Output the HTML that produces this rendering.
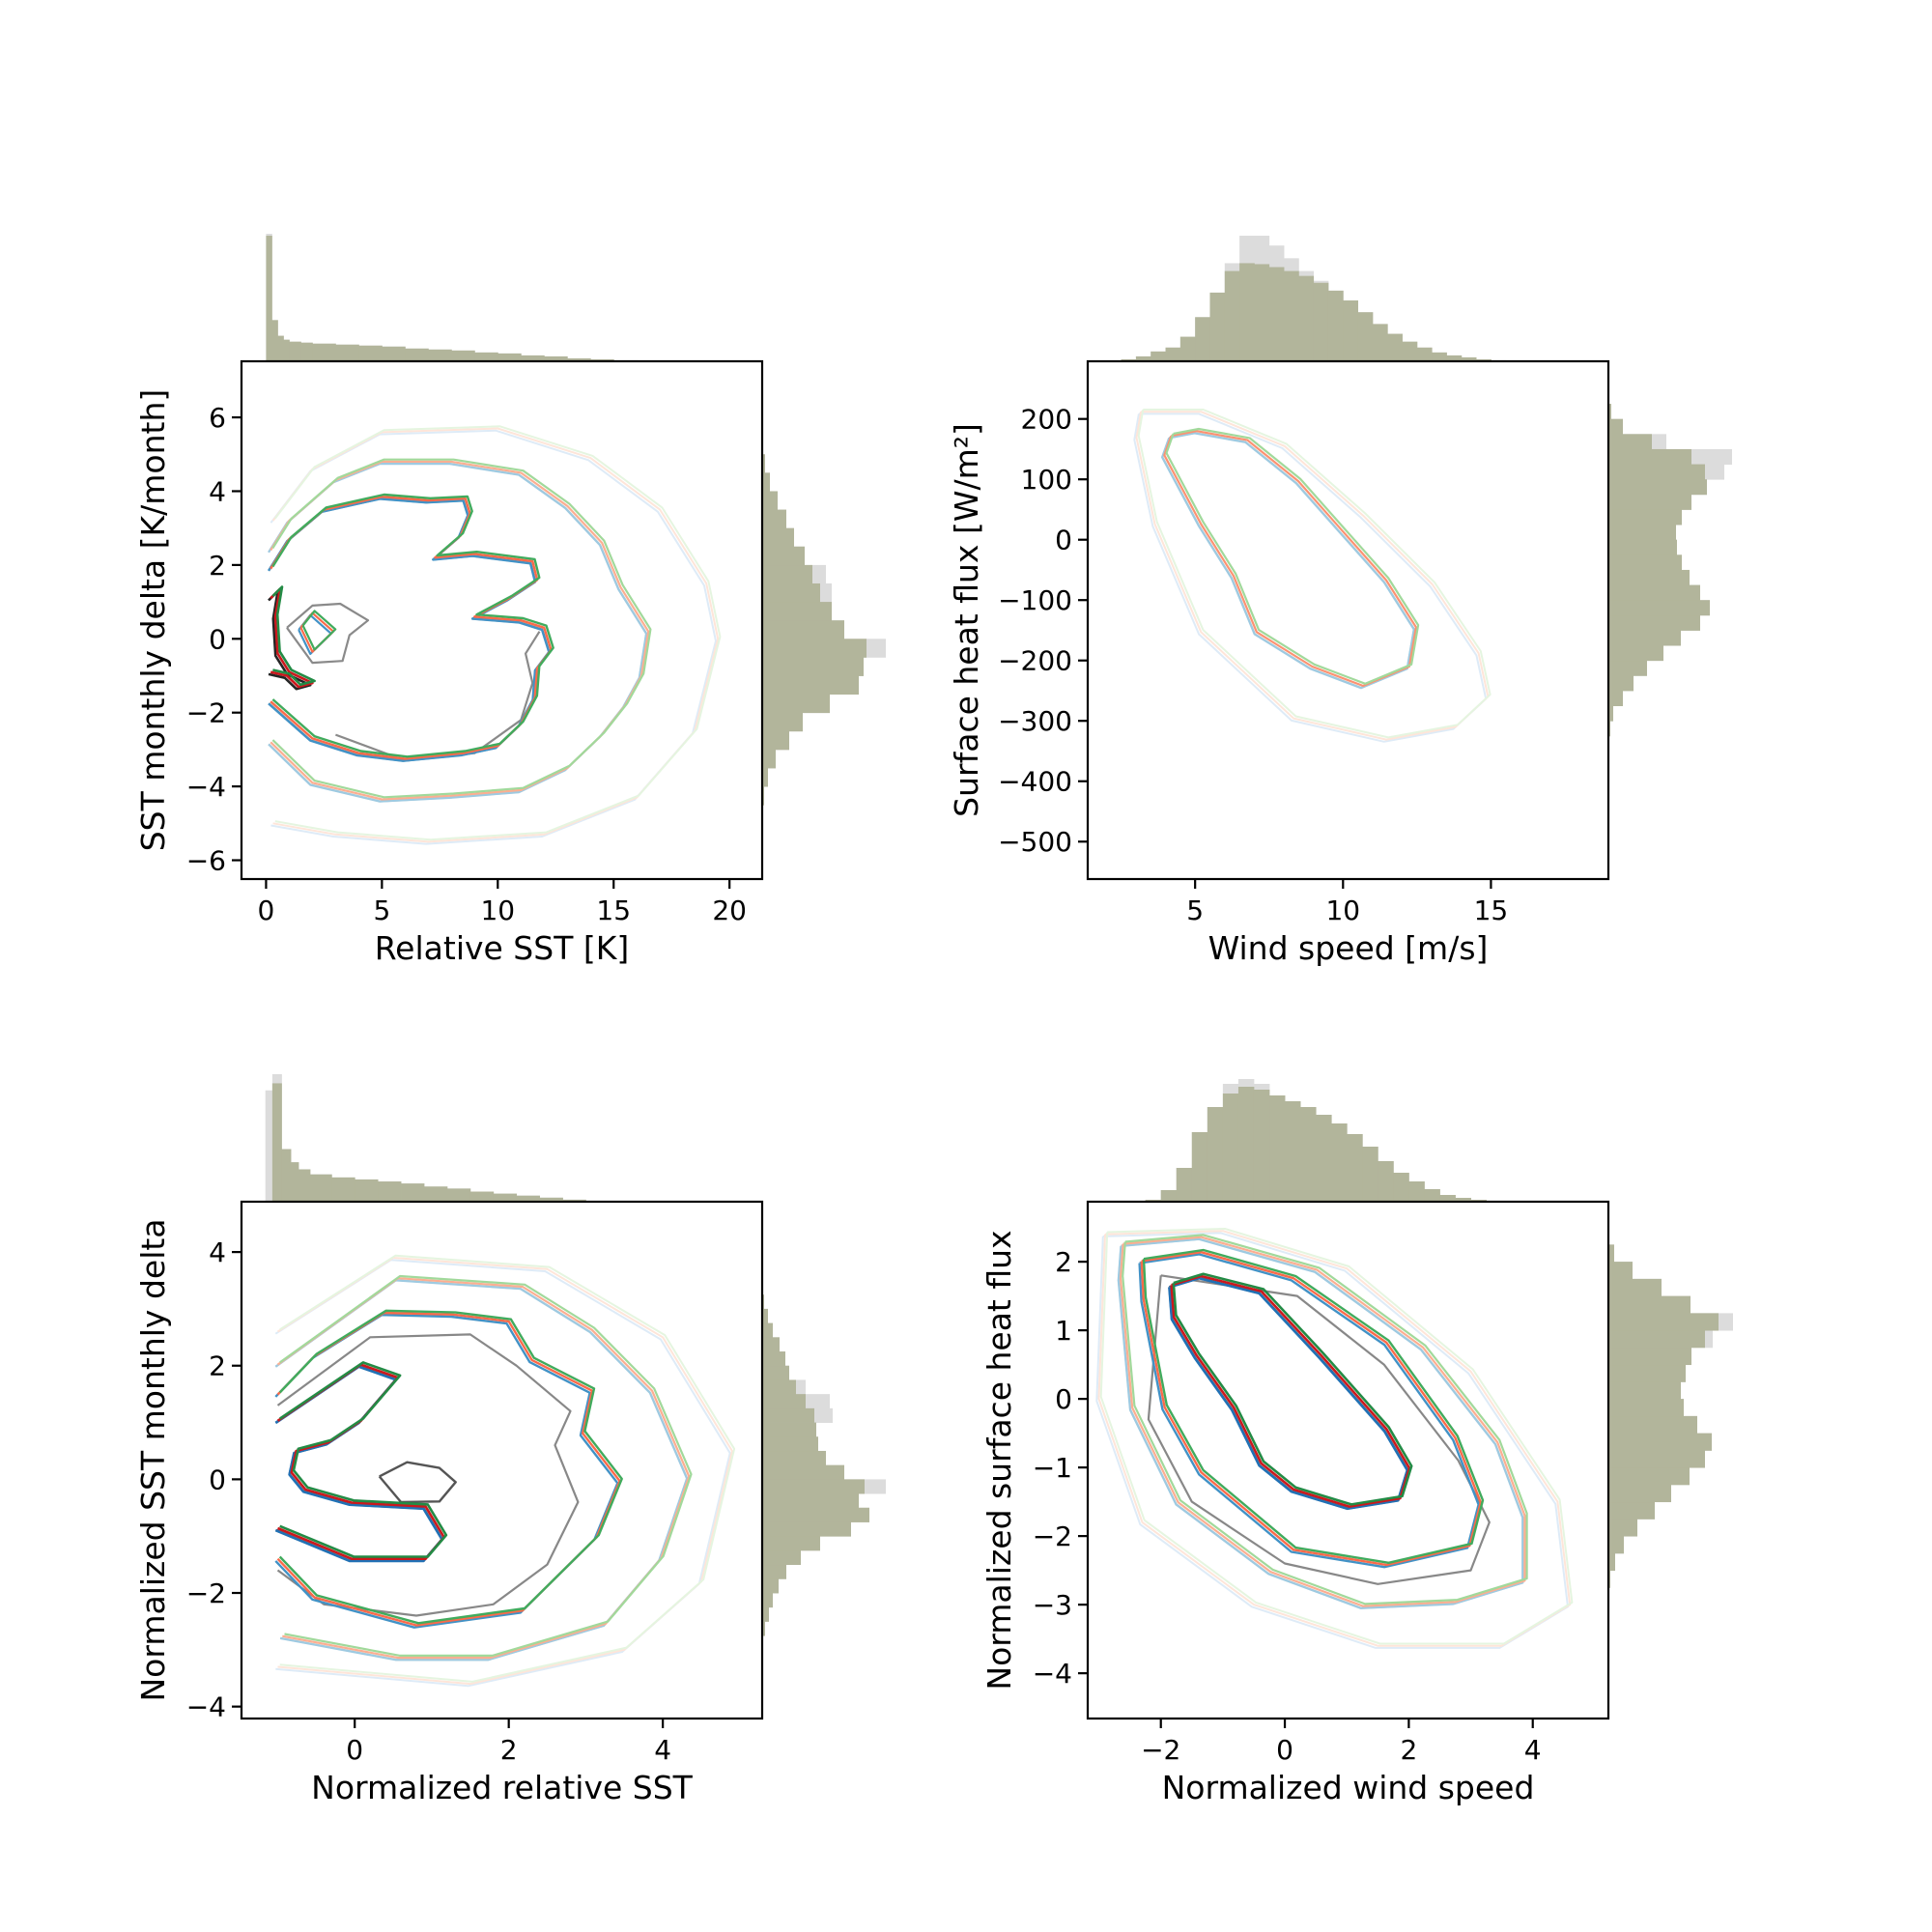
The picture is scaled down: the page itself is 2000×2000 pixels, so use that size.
<!DOCTYPE html>
<html><head><meta charset="utf-8">
<style>
html,body{margin:0;padding:0;background:#fff;}
svg{display:block;font-family:"DejaVu Sans","Liberation Sans",sans-serif;}
</style></head>
<body>
<svg id="fig" width="2000" height="2000" viewBox="0 0 2000 2000" xmlns="http://www.w3.org/2000/svg">
<rect x="0" y="0" width="2000" height="2000" fill="#fff"/>
</svg>
<script>
// ---------- DATA ----------
// Top-left: Relative SST vs SST monthly delta
const tlXTicks = [0,5,10,15,20];
const tlYTicks = [6,4,2,0,-2,-4,-6];
const tlTopEdges = [0,0.25,0.5,0.75,1,1.5,2,3,4,5,6,7,8,9,10,11,12,13,14,15,16];
const tlTopCounts = [128,42,26,22,20,19,18,17,16,15,13,12,11,9,8,6,5,3,2,1];
const tlTopGray = [130,42,26,22,20,19,18,17,16,15,13,12,11,9,8,6,5,3,2,1];
const tlRightEdges = [-4.5,-4,-3.5,-3,-2.5,-2,-1.5,-1,-0.5,0,0.5,1,1.5,2,2.5,3,3.5,4,4.5,5];
const tlRightCounts = [2,6,14,28,42,70,100,105,108,85,72,60,52,44,33,25,16,8,3];
const tlRightGray = [2,6,14,28,42,70,100,105,128,85,72,72,66,44,33,25,16,8,3];
const tlFaint = [[0.3,3.2],[2,4.6],[5,5.6],[10,5.7],[14,4.9],[17,3.5],[19,1.5],[19.5,0],[18.5,-2.5],[16,-4.3],[12,-5.3],[7,-5.5],[3,-5.3],[0.3,-5]];
const tlMid = [[0.2,2.4],[1,3.2],[3,4.3],[5,4.8],[8,4.8],[11,4.5],[13,3.6],[14.5,2.6],[15.3,1.4],[16.5,0.2],[16.2,-1],[15.5,-1.8],[14.5,-2.6],[13,-3.5],[11,-4.1],[8,-4.25],[5,-4.35],[2,-3.9],[0.2,-2.8]];
const tlInner = [[0.2,1.9],[1,2.7],[2.5,3.5],[5,3.85],[7,3.75],[8.6,3.8],[8.8,3.4],[8.4,2.8],[7.3,2.2],[9,2.3],[11.5,2.1],[11.7,1.6],[10.5,1.1],[9,0.6],[11,0.5],[12,0.3],[12.3,-0.3],[11.7,-0.8],[11.6,-1.6],[11,-2.3],[10,-2.9],[8.5,-3.1],[6,-3.25],[4,-3.1],[2,-2.7],[0.2,-1.7]];
const tlCrescent = [[0.2,1.1],[0.6,1.35],[0.4,0.6],[0.5,-0.4],[1.0,-0.9],[2.0,-1.2],[1.4,-1.3],[0.9,-1.0],[0.2,-0.9]];
const tlLoop = [[1.5,0.3],[2,0.7],[2.9,0.2],[2,-0.35],[1.5,0.3]];
const tlGrayLoop = [[0.9,0.3],[2,0.9],[3.2,0.95],[4.4,0.5],[3.6,0.1],[3.3,-0.6],[2,-0.65],[0.9,0.3]];
const tlGrayOuter = [[3,-2.6],[6,-3.3],[9,-3.1],[11,-2.2],[11.5,-1.2],[11.2,-0.4],[11.8,0.2]];

// Top-right: Wind speed vs surface heat flux
const trXTicks = [5,10,15];
const trYTicks = [200,100,0,-100,-200,-300,-400,-500];
const trTopEdges = [2,2.5,3,3.5,4,4.5,5,5.5,6,6.5,7,7.5,8,8.5,9,9.5,10,10.5,11,11.5,12,12.5,13,13.5,14,14.5,15,15.5];
const trTopCounts = [0.5,2,5,10,14,25,45,70,92,100,99,96,92,87,80,72,62,50,38,28,20,14,9,6,4,2,1];
const trTopGray = [0.5,2,5,10,14,25,45,70,100,128,128,118,105,92,82,72,62,50,38,28,20,14,9,6,4,2,1];
const trRightEdges = [-350,-325,-300,-275,-250,-225,-200,-175,-150,-125,-100,-75,-50,-25,0,25,50,75,100,125,150,175,200,225];
const trRightCounts = [0.5,2,5,15,26,40,57,75,95,105,95,84,76,71,70,76,86,102,100,86,45,15,3];
const trRightGray = [0.5,2,5,15,26,40,57,75,95,105,95,84,76,71,70,76,86,102,120,128,60,15,3];
const trInner = [[4.19,172],[5.05,180],[6.77,165],[8.49,97],[9.9,19],[11.46,-67],[12.47,-145],[12.24,-210],[10.68,-242],[8.96,-210],[7.08,-153],[6.3,-60],[5.2,26],[3.96,140],[4.19,172]];
const trOuter = [[3.17,212],[5.2,212],[8.02,155],[10.68,40],[13.02,-74],[14.58,-188],[14.9,-260],[13.8,-310],[11.46,-331],[8.33,-296],[5.2,-153],[3.64,26],[3.02,169],[3.17,212]];

// Bottom-left: normalized relative SST vs normalized SST delta
const blXTicks = [0,2,4];
const blYTicks = [4,2,0,-2,-4];
const blTopEdges = [-1.16,-1.07,-0.95,-0.83,-0.73,-0.58,-0.3,0,0.3,0.6,0.9,1.2,1.5,1.8,2.1,2.4,2.7,3.0];
const blTopCounts = [0,117,52,39,32,27,24,22,20,18,15,13,10,8,6,4,2];
const blTopGray = [110,126,52,39,32,27,24,22,20,18,15,13,10,8,6,4,2];
const blRightEdges = [-3,-2.75,-2.5,-2.25,-2,-1.75,-1.5,-1.25,-1,-0.75,-0.5,-0.25,0,0.25,0.5,0.75,1,1.25,1.5,1.75,2,2.25,2.5,2.75,3,3.25];
const blRightCounts = [1,3,7,11,17,25,40,60,92,111,100,106,85,66,58,56,54,45,35,28,24,18,11,6,2];
const blRightGray = [1,3,7,11,17,25,40,60,92,111,100,128,85,66,58,56,73,70,45,28,24,18,11,6,2];
const blFaint = [[-1,2.6],[0.5,3.9],[2.5,3.7],[4,2.5],[4.9,0.5],[4.5,-1.8],[3.5,-3],[1.5,-3.6],[-1,-3.3]];
const blMid = [[-1.0,2.02],[0.56,3.54],[2.18,3.39],[3.08,2.63],[3.86,1.56],[4.34,0.05],[3.98,-1.39],[3.26,-2.54],[1.76,-3.14],[0.56,-3.14],[-0.94,-2.76]];
const blMain = [[-1.0,1.49],[-0.52,2.17],[0.38,2.93],[1.28,2.9],[2.0,2.78],[2.3,2.1],[3.08,1.56],[2.96,0.81],[3.44,-0.03],[3.14,-1.02],[2.18,-2.31],[0.8,-2.57],[-0.52,-2.08],[-1.0,-1.4]];
const blArm = [[-1.0,1.03],[0.08,2.02],[0.56,1.79],[0.08,1.03],[-0.34,0.65],[-0.76,0.5],[-0.82,0.12],[-0.64,-0.18],[-0.04,-0.41],[0.92,-0.48],[1.16,-1.02],[0.92,-1.4],[-0.04,-1.4],[-1.0,-0.86]];
const blGrayLoop = [[0.32,0.05],[0.68,0.3],[1.1,0.2],[1.31,-0.05],[1.1,-0.39],[0.6,-0.4],[0.32,0.05]];
const blGrayMain = [[-1.0,1.3],[0.2,2.5],[1.5,2.55],[2.1,2.0],[2.8,1.2],[2.6,0.6],[2.9,-0.4],[2.5,-1.5],[1.8,-2.2],[0.8,-2.4],[-0.4,-2.2],[-1.0,-1.6]];

// Bottom-right: normalized wind speed vs normalized heat flux
const brXTicks = [-2,0,2,4];
const brYTicks = [2,1,0,-1,-2,-3,-4];
const brTopEdges = [-2.25,-2,-1.75,-1.5,-1.25,-1,-0.75,-0.5,-0.25,0,0.25,0.5,0.75,1,1.25,1.5,1.75,2,2.25,2.5,2.75,3,3.25,3.5];
const brTopCounts = [2,12,35,72,98,112,119,116,110,104,98,90,81,70,57,42,30,21,13,7,4,2,1];
const brTopGray = [2,12,35,72,98,122,127,122,110,104,98,90,81,70,57,42,30,21,13,7,4,2,1];
const brRightEdges = [-2.75,-2.5,-2.25,-2,-1.75,-1.5,-1.25,-1,-0.75,-0.5,-0.25,0,0.25,0.5,0.75,1,1.25,1.5,1.75,2,2.25];
const brRightCounts = [2,7,16,30,48,65,84,100,107,92,78,75,80,86,100,114,85,55,25,6];
const brRightGray = [2,7,16,30,48,65,84,100,107,92,78,75,80,86,108,129,85,55,25,6];
const brInner = [[-1.83,1.66],[-1.35,1.79],[-0.38,1.57],[0.59,0.63],[1.64,-0.44],[2.01,-1.01],[1.86,-1.45],[1.04,-1.57],[0.14,-1.32],[-0.38,-0.94],[-0.82,-0.13],[-1.42,0.63],[-1.79,1.19],[-1.83,1.66]];
const brGrayInner = [[-1.6,1.62],[-0.6,1.5],[0.3,0.55],[1.3,-0.5],[1.85,-1.2],[1.4,-1.65],[0.4,-1.75],[-0.5,-1.2],[-1.0,-0.3],[-1.6,0.6],[-1.8,1.3],[-1.6,1.62]];
const brMid = [[-2.31,2.01],[-1.35,2.14],[0.14,1.76],[1.64,0.82],[2.75,-0.57],[3.16,-1.51],[2.98,-2.14],[1.64,-2.42],[0.14,-2.2],[-1.35,-1.07],[-1.94,-0.12],[-2.28,1.45],[-2.31,2.01]];
const brGrayMid = [[-2.0,1.8],[0.2,1.5],[1.6,0.5],[2.8,-0.9],[3.3,-1.8],[3.0,-2.5],[1.5,-2.7],[0,-2.4],[-1.5,-1.5],[-2.2,-0.3],[-2.0,1.8]];
const brOuter = [[-2.61,2.26],[-1.35,2.36],[0.52,1.88],[2.23,0.75],[3.43,-0.63],[3.87,-1.7],[3.87,-2.65],[2.75,-2.96],[1.26,-3.02],[-0.23,-2.52],[-1.72,-1.51],[-2.46,-0.13],[-2.65,1.76],[-2.61,2.26]];
const brFaint = [[-2.9,2.4],[-1,2.45],[1,1.9],[3,0.4],[4.4,-1.5],[4.6,-3],[3.5,-3.6],[1.5,-3.6],[-0.5,-3.0],[-2.3,-1.8],[-3.0,0],[-2.9,2.4]];

// ---------- RENDER ----------
const NS = 'http://www.w3.org/2000/svg';
const fig = document.getElementById('fig');
function mk(tag, attrs, parent){
  const e = document.createElementNS(NS, tag);
  for (const k in attrs) e.setAttribute(k, attrs[k]);
  (parent||fig).appendChild(e);
  return e;
}
const OLIVE = '#b2b59b';
const fmt = v => (v<0 ? '\u2212'+Math.abs(v) : ''+v);

function drawPanel(p){
  const g = mk('g', {});
  
  
  const sx = v => p.x0 + (v - p.xd[0]) / (p.xd[1]-p.xd[0]) * (p.x1 - p.x0);
  const sy = v => p.y1 - (v - p.yd[0]) / (p.yd[1]-p.yd[0]) * (p.y1 - p.y0);

  const topG = mk('g', {}, g);
  
  
  const tmax = Math.max(...p.topGray, ...p.topCounts);
  [[p.topGray,'#dcdcdc'],[p.topCounts,OLIVE]].forEach(([arr,col])=>{
    arr.forEach((c,i)=>{
      const xa = sx(p.topEdges[i]), xb = sx(p.topEdges[i+1]);
      const h = c / tmax * p.topH;
      const r = mk('rect', {x:xa, y:p.y0-h, width:Math.max(0.5,xb-xa+0.4), height:h, fill:col}, topG);
      
      
    });
  });
  const rG = mk('g', {}, g);
  
  
  const rmax = Math.max(...p.rightGray, ...p.rightCounts);
  [[p.rightGray,'#dcdcdc'],[p.rightCounts,OLIVE]].forEach(([arr,col])=>{
    arr.forEach((c,i)=>{
      const ya = sy(p.rightEdges[i+1]), yb = sy(p.rightEdges[i]);
      const w = c / rmax * p.rightW;
      const r = mk('rect', {x:p.x1, y:ya, width:w, height:Math.max(0.5,yb-ya+0.4), fill:col}, rG);
      
      
    });
  });

  const bg = mk('rect', {x:p.x0, y:p.y0, width:p.x1-p.x0, height:p.y1-p.y0, fill:'#fff'}, g);
  
  
  const clip = mk('clipPath', {id:'clip-'+p.name}, g);
  mk('rect', {x:p.x0, y:p.y0, width:p.x1-p.x0, height:p.y1-p.y0}, clip);

  const cG = mk('g', {'clip-path':'url(#clip-'+p.name+')'}, g);
  
  
  p.contours.forEach(ct=>{
    const d = ct.pts.map((q,i)=>(i?'L':'M')+sx(q[0]).toFixed(1)+' '+sy(q[1]).toFixed(1)).join(' ');
    const path = mk('path', {d:d, fill:'none', stroke:ct.color, 'stroke-width':ct.w||2.2, 'stroke-linejoin':'round', transform:'translate('+(ct.dx||0)+','+(ct.dy||0)+')'}, cG);
    
    
  });

  const fr = mk('rect', {x:p.x0, y:p.y0, width:p.x1-p.x0, height:p.y1-p.y0, fill:'none', stroke:'#000', 'stroke-width':2.2}, g);
  
  

  const xt = mk('g', {}, g);
  
  
  p.xTicks.forEach(v=>{
    const X = sx(v);
    mk('line', {x1:X, x2:X, y1:p.y1, y2:p.y1+10, stroke:'#000', 'stroke-width':2.2}, xt);
    const t = mk('text', {x:X, y:p.y1+42, 'font-size':28, 'text-anchor':'middle', fill:'#000'}, xt);
    
    
    t.textContent = fmt(v);
  });
  const yt = mk('g', {}, g);
  
  
  p.yTicks.forEach(v=>{
    const Y = sy(v);
    mk('line', {x1:p.x0-10, x2:p.x0, y1:Y, y2:Y, stroke:'#000', 'stroke-width':2.2}, yt);
    const t = mk('text', {x:p.x0-16, y:Y+10, 'font-size':28, 'text-anchor':'end', fill:'#000'}, yt);
    
    
    t.textContent = fmt(v);
  });
  const xl = mk('text', {x:(p.x0+p.x1)/2, y:p.y1+83, 'font-size':33, 'text-anchor':'middle', fill:'#000'}, g);
  
  
  xl.textContent = p.xLabel;
  const cy = (p.y0+p.y1)/2;
  const yl = mk('text', {x:p.yLabelX, y:cy, 'font-size':33, 'text-anchor':'middle', fill:'#000', transform:'rotate(-90 '+p.yLabelX+' '+cy+')'}, g);
  
  
  yl.textContent = p.yLabel;
}

// colour order: blue, red, green (green drawn last like reference)
const R = {faint:['#deebf7','#fee5d9','#e5f5e0'], light:['#9ecae1','#fcae91','#a1d99b'], strong:['#4292c6','#fb6a4a','#41ab5d'], dark:['#2171b5','#cb181d','#238b45']};
function set(pts, cols, w, gray){
  const out = [];
  if (gray) out.push({pts:pts, color:gray, w:w, dx:-2, dy:2});
  cols.forEach((c,i)=>out.push({pts:pts, color:c, w:w, dx:(i-1)*2.2, dy:(1-i)*2.2}));
  return out;
}

drawPanel({name:'panel-relative-sst', x0:250, x1:789, y0:374, y1:910, xd:[-1.06,21.41], yd:[-6.51,7.52],
  xTicks:tlXTicks, yTicks:tlYTicks, topEdges:tlTopEdges, topCounts:tlTopCounts, topGray:tlTopGray, topH:132,
  rightEdges:tlRightEdges, rightCounts:tlRightCounts, rightGray:tlRightGray, rightW:128,
  xLabel:'Relative SST [K]', yLabel:'SST monthly delta [K/month]', yLabelX:170,
  contours:[].concat(set(tlFaint,R.faint,2), set(tlMid,R.light,2.2,'#cccccc'), [{pts:tlGrayLoop,color:'#8a8a8a',w:2.2},{pts:tlGrayOuter,color:'#8a8a8a',w:2.2}],
    set(tlInner,R.strong,2.4,'#8a8a8a'), set(tlCrescent,['#252525','#cb181d','#238b45'],2.6), set(tlLoop,['#4292c6','#fb6a4a','#41ab5d'],2.2))});

drawPanel({name:'panel-wind-speed', x0:1126, x1:1665, y0:374, y1:910, xd:[1.37,18.97], yd:[-562,295.5],
  xTicks:trXTicks, yTicks:trYTicks, topEdges:trTopEdges, topCounts:trTopCounts, topGray:trTopGray, topH:130,
  rightEdges:trRightEdges, rightCounts:trRightCounts, rightGray:trRightGray, rightW:128,
  xLabel:'Wind speed [m/s]', yLabel:'Surface heat flux [W/m\u00b2]', yLabelX:1012,
  contours:[].concat(set(trOuter,R.faint,2), set(trInner,['#9ecae1','#fc9272','#a1d99b'],2.2,'#c8c8c8'))});

drawPanel({name:'panel-normalized-sst', x0:250, x1:789, y0:1244, y1:1779, xd:[-1.47,5.29], yd:[-4.21,4.886],
  xTicks:blXTicks, yTicks:blYTicks, topEdges:blTopEdges, topCounts:blTopCounts, topGray:blTopGray, topH:132,
  rightEdges:blRightEdges, rightCounts:blRightCounts, rightGray:blRightGray, rightW:128,
  xLabel:'Normalized relative SST', yLabel:'Normalized SST monthly delta', yLabelX:170,
  contours:[].concat(set(blFaint,R.faint,2), set(blMid,R.light,2.2,'#cccccc'), [{pts:blGrayMain,color:'#888888',w:2.2},{pts:blGrayLoop,color:'#555555',w:2.4}],
    set(blMain,R.strong,2.4), set(blArm,R.dark,2.6,'#555555'))});

drawPanel({name:'panel-normalized-wind', x0:1126, x1:1665, y0:1244, y1:1779, xd:[-3.18,5.22], yd:[-4.66,2.875],
  xTicks:brXTicks, yTicks:brYTicks, topEdges:brTopEdges, topCounts:brTopCounts, topGray:brTopGray, topH:127,
  rightEdges:brRightEdges, rightCounts:brRightCounts, rightGray:brRightGray, rightW:129,
  xLabel:'Normalized wind speed', yLabel:'Normalized surface heat flux', yLabelX:1046,
  contours:[].concat(set(brFaint,R.faint,2), set(brOuter,R.light,2.2,'#cccccc'), [{pts:brGrayMid,color:'#888888',w:2.2}],
    set(brMid,R.strong,2.4), set(brInner,R.dark,2.6,'#555555'))});
</script>
</body></html>
